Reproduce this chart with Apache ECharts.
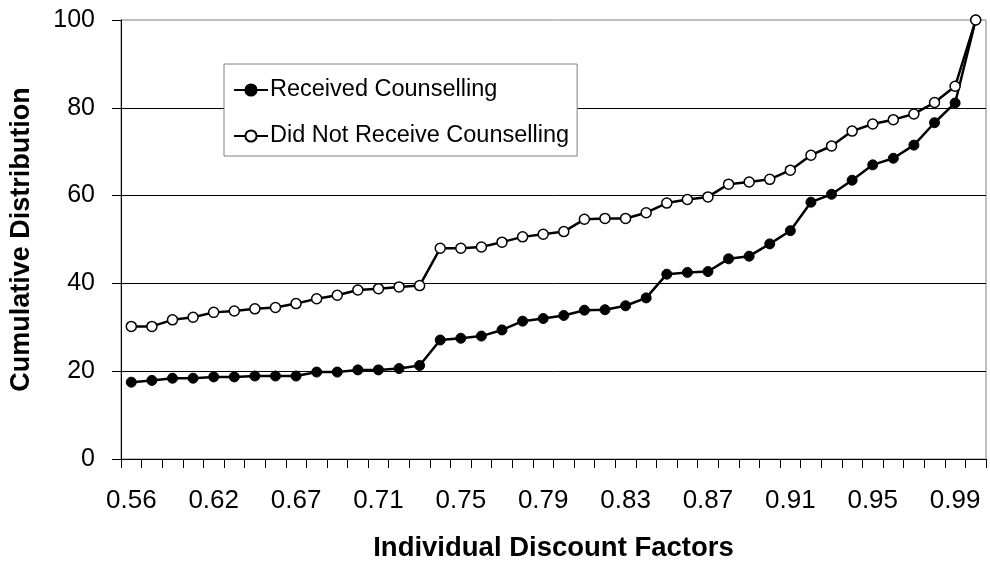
<!DOCTYPE html>
<html>
<head>
<meta charset="utf-8">
<script src="https://cdn.jsdelivr.net/npm/echarts@6/dist/echarts.min.js"></script>
<style>
html,body{margin:0;padding:0;background:#fff;}
#chart{width:990px;height:567px;}
</style>
</head>
<body>
<div id="chart"></div>
<script>
// Category values (discount factors); only every 4th is labelled on the axis
var categories = ['0.56','0.57','0.59','0.60','0.62','0.63','0.64','0.66','0.67','0.68','0.69','0.70','0.71','0.72','0.73','0.74',
  '0.75','0.76','0.77','0.78','0.79','0.80','0.81','0.82','0.83','0.84','0.85','0.86','0.87','0.88','0.89','0.90',
  '0.91','0.92','0.93','0.94','0.95','0.96','0.97','0.98','0.99','1.00'];
var receivedCounselling = [17.5,17.9,18.4,18.4,18.7,18.7,18.9,18.9,18.9,19.8,19.8,20.3,20.3,20.6,21.3,27.1,
  27.5,28.0,29.4,31.4,32.0,32.7,33.9,34.0,34.9,36.7,42.1,42.5,42.7,45.6,46.2,49.0,
  52.0,58.5,60.3,63.5,67.0,68.5,71.5,76.6,81.1,100];
var notReceivedCounselling = [30.2,30.2,31.7,32.3,33.4,33.7,34.2,34.5,35.4,36.5,37.3,38.5,38.8,39.2,39.5,48.0,
  48.0,48.3,49.4,50.6,51.2,51.8,54.6,54.8,54.8,56.1,58.3,59.1,59.7,62.6,63.1,63.7,
  65.8,69.2,71.3,74.7,76.3,77.3,78.6,81.2,84.9,100];
var yTicks = {min: 0, max: 100, interval: 20};
var seriesNames = ['Received Counselling', 'Did Not Receive Counselling'];

var FONT = 'Liberation Sans, Arial, sans-serif';
var chart = echarts.init(document.getElementById('chart'), null, {renderer: 'canvas'});
chart.setOption({
  animation: false,
  backgroundColor: '#ffffff',
  grid: {left: 121, right: 4, top: 20, bottom: 106, show: true, borderColor: '#808080', borderWidth: 1, backgroundColor: 'transparent'},
  legend: {
    orient: 'vertical', left: 224, top: 64,
    backgroundColor: '#ffffff', borderColor: '#808080', borderWidth: 1,
    padding: [14, 8, 8, 9], itemGap: 22, itemWidth: 34, itemHeight: 14,
    textStyle: {fontFamily: FONT, fontSize: 23.5, color: '#000', lineHeight: 24, padding: [0,0,0,-3]},
    data: seriesNames
  },
  xAxis: {
    type: 'category', data: categories, boundaryGap: true,
    name: 'Individual Discount Factors', nameLocation: 'middle', nameGap: 75,
    nameTextStyle: {fontFamily: FONT, fontSize: 27.5, fontWeight: 'bold', color: '#000'},
    axisLine: {lineStyle: {color: '#000', width: 1}},
    axisTick: {show: true, interval: 0, length: 9, lineStyle: {color: '#000'}},
    axisLabel: {interval: 3, margin: 29, fontFamily: FONT, fontSize: 26, color: '#000'},
    splitLine: {show: false}
  },
  yAxis: {
    type: 'value', min: yTicks.min, max: yTicks.max, interval: yTicks.interval,
    name: 'Cumulative Distribution', nameLocation: 'middle', nameGap: 86,
    nameTextStyle: {fontFamily: FONT, fontSize: 27, fontWeight: 'bold', color: '#000'},
    axisLine: {show: true, lineStyle: {color: '#000', width: 1}},
    axisTick: {show: true, length: 9, lineStyle: {color: '#000'}},
    axisLabel: {margin: 26, fontFamily: FONT, fontSize: 25, color: '#000'},
    splitLine: {show: true, showMaxLine: false, lineStyle: {color: '#000', width: 1}}
  },
  series: [
    {
      name: seriesNames[0], type: 'line', data: receivedCounselling,
      symbol: 'circle', symbolSize: 10,
      lineStyle: {color: '#000', width: 2.5},
      itemStyle: {color: '#000', borderColor: '#000', borderWidth: 1}
    },
    {
      name: seriesNames[1], type: 'line', data: notReceivedCounselling,
      symbol: 'circle', symbolSize: 10,
      lineStyle: {color: '#000', width: 2.5},
      itemStyle: {color: '#fff', borderColor: '#000', borderWidth: 1.5}
    }
  ]
});
</script>
</body>
</html>
